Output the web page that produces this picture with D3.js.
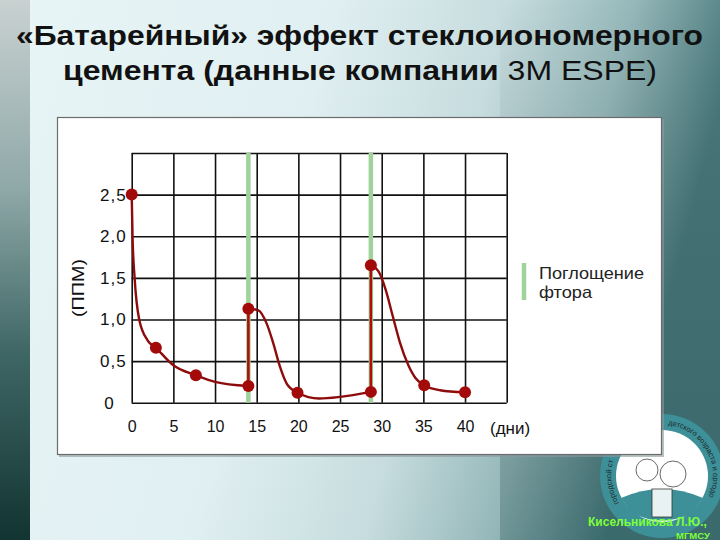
<!DOCTYPE html>
<html><head><meta charset="utf-8">
<script src="https://cdn.jsdelivr.net/npm/d3@7"></script>
<style>html,body{margin:0;padding:0;overflow:hidden;background:#e4f2f4}svg{display:block}</style>
</head><body><svg id="c" width="720" height="540"></svg>
<script>
// ---- data ----
const markerDays = [0, 2.9, 7.7, 14, 14, 19.9, 28.7, 28.7, 35.1, 40];
const markerPpm  = [2.5, 0.66, 0.33, 0.2, 1.13, 0.12, 0.13, 1.65, 0.21, 0.125];
// traced line, three stretches between the uptake jumps
const seg1Days = [0, 0.1, 0.35, 0.9, 1.9, 2.9, 5, 7.7, 10, 14];
const seg1Ppm  = [2.5, 2.0, 1.5, 1.0, 0.75, 0.66, 0.45, 0.33, 0.25, 0.2];
const seg2Days = [14, 15.2, 16.2, 17.0, 17.8, 18.6, 19.9, 22.5, 25, 28.7];
const seg2Ppm  = [1.13, 1.11, 0.95, 0.71, 0.43, 0.23, 0.12, 0.05, 0.07, 0.13];
const seg3Days = [28.7, 29.6, 30.5, 31.3, 32.2, 33.2, 34.1, 35.1, 37, 40];
const seg3Ppm  = [1.65, 1.58, 1.35, 1.05, 0.72, 0.45, 0.29, 0.21, 0.15, 0.125];
const uptakeDays = [14, 28.7];
const xTicks = [0, 5, 10, 15, 20, 25, 30, 35, 40];
const xGrid = [0, 5, 10, 15, 20, 25, 30, 35, 40, 45];
const yTicks = [0, 0.5, 1.0, 1.5, 2.0, 2.5];
const yTickLabels = ["0", "0,5", "1,0", "1,5", "2,0", "2,5"];
const yGrid = [0, 0.5, 1, 1.5, 2, 2.5, 3];
const titleLine1 = "«Батарейный» эффект стеклоиономерного";
const titleLine2a = "цемента (данные компании ";
const titleLine2b = "3M ESPE)";
const yTitle = "(ППМ)";
const xTitle = "(дни)";
const legendLines = ["Поглощение", "фтора"];
const logoTextLeft = "городской стом";
const logoTextRight = "детского возраста и ортодонтии";
const creditLines = ["Кисельникова Л.Ю.,", "МГМСУ"];

const svg = d3.select("#c");
const defs = svg.append("defs");
const font = "'Liberation Sans', Arial, sans-serif";

// background gradients
const bg = defs.append("linearGradient").attr("id","bg").attr("x1","0").attr("y1","0").attr("x2","1").attr("y2","0.2");
[[0,"#e8f5f7"],[0.45,"#e0eff1"],[0.68,"#c6dcde"],[0.85,"#95b7b9"],[1,"#4a7a7d"]].forEach(s=>bg.append("stop").attr("offset",s[0]).attr("stop-color",s[1]));
const strip = defs.append("linearGradient").attr("id","strip").attr("x1","0").attr("y1","0").attr("x2","0").attr("y2","1");
[[0,"#c9d1d1"],[0.35,"#8fa8a8"],[0.65,"#3f6766"],[1,"#123432"]].forEach(s=>strip.append("stop").attr("offset",s[0]).attr("stop-color",s[1]));
const shade = defs.append("linearGradient").attr("id","shade").attr("x1","0").attr("y1","0").attr("x2","0").attr("y2","1");
[[0,"#000",0],[1,"#0d3b3c",0.25]].forEach(s=>shade.append("stop").attr("offset",s[0]).attr("stop-color",s[1]).attr("stop-opacity",s[2]));

svg.append("rect").attr("width",720).attr("height",540).attr("fill","url(#bg)");
svg.append("rect").attr("x",500).attr("width",220).attr("height",540).attr("fill","url(#shade)");
svg.append("rect").attr("width",30).attr("height",540).attr("fill","url(#strip)");

// logo (behind panel)
const logo = svg.append("g").attr("transform","translate(662,476)");
logo.append("circle").attr("r",62).attr("fill","#3d8f98");
logo.append("circle").attr("r",46).attr("fill","#ffffff");
logo.append("path").attr("d","M-41,22 Q0,4 41,22 L30,37 Q0,52 -30,37 Z").attr("fill","#3d8f98");
logo.append("rect").attr("x",-10).attr("y",13).attr("width",20).attr("height",28).attr("fill","#e9f2f3").attr("stroke","#333").attr("stroke-width",0.8);
logo.append("circle").attr("cx",-15).attr("cy",-6).attr("r",11).attr("fill","none").attr("stroke","#444").attr("stroke-width",0.8);
logo.append("circle").attr("cx",11).attr("cy",-2).attr("r",13).attr("fill","none").attr("stroke","#444").attr("stroke-width",0.8);
defs.append("path").attr("id","ringL").attr("d","M-43,27 A51,51 0 0,1 -48,-17");
defs.append("path").attr("id","ringR").attr("d","M6,-51 A51,51 0 0,1 46,22");
logo.append("text").attr("font-family",font).attr("font-size",7.5).attr("fill","#1d2b2c")
  .append("textPath").attr("href","#ringL").text(logoTextLeft);
logo.append("text").attr("font-family",font).attr("font-size",7.5).attr("fill","#1d2b2c")
  .append("textPath").attr("href","#ringR").text(logoTextRight);
svg.append("g").selectAll("text").data(creditLines).join("text")
  .attr("x",(d,i)=>i===0?588:676).attr("y",(d,i)=>i===0?526:539)
  .attr("font-family",font).attr("font-weight","bold").attr("font-size",(d,i)=>i===0?12:9.5)
  .attr("fill","#7dff3a").text(d=>d);

// title
svg.append("text").attr("x",16).attr("y",45).attr("font-family",font).attr("font-weight","bold").attr("font-size",27)
  .attr("fill","#111").attr("textLength",687).attr("lengthAdjust","spacingAndGlyphs").text(titleLine1);
const t2 = svg.append("text").attr("x",63).attr("y",80).attr("font-family",font).attr("font-size",27)
  .attr("fill","#111").attr("textLength",594).attr("lengthAdjust","spacingAndGlyphs");
t2.append("tspan").attr("font-weight","bold").text(titleLine2a);
t2.append("tspan").attr("font-weight","normal").text(titleLine2b);

// panel
svg.append("rect").attr("x",59).attr("y",119).attr("width",605).attr("height",338).attr("fill","#8a9a9b").attr("opacity",0.6);
svg.append("rect").attr("x",57.5).attr("y",117.5).attr("width",604).attr("height",337).attr("fill","#ffffff").attr("stroke","#6b6b6b").attr("stroke-width",1.2);

// scales
const x = d3.scaleLinear().domain([0,45]).range([131.7,506.7]);
const y = d3.scaleLinear().domain([0,3]).range([402.7,153]);

// grid
const g = svg.append("g");
g.append("g").attr("transform",`translate(0,${y(0)})`)
  .call(d3.axisBottom(x).tickValues(xGrid).tickSize(-(y(0)-y(3))).tickFormat(""))
  .call(a=>{a.select(".domain").remove();a.selectAll("line").attr("stroke","#111").attr("stroke-width",1.6);});
g.append("g").attr("transform",`translate(${x(0)},0)`)
  .call(d3.axisLeft(y).tickValues(yGrid).tickSize(-(x(45)-x(0))).tickFormat(""))
  .call(a=>{a.select(".domain").remove();a.selectAll("line").attr("stroke","#111").attr("stroke-width",1.6);});

// uptake bars
svg.append("g").selectAll("line").data(uptakeDays).join("line")
  .attr("x1",d=>x(d)).attr("x2",d=>x(d)).attr("y1",y(3)).attr("y2",y(0))
  .attr("stroke","#9fd39a").attr("stroke-width",4.5);

// tick labels
svg.append("g").attr("transform",`translate(0,${y(0)})`)
  .call(d3.axisBottom(x).tickValues(xTicks).tickSize(0).tickPadding(18).tickFormat(d=>String(d)))
  .call(a=>{a.select(".domain").remove();a.selectAll("text").attr("font-family",font).attr("font-size",16).attr("fill","#111");});
svg.append("g").attr("transform",`translate(${x(0)-5},0)`)
  .call(d3.axisLeft(y).tickValues(yTicks).tickSize(0).tickPadding(0).tickFormat((d,i)=>yTickLabels[i]))
  .call(a=>{a.select(".domain").remove();
    a.selectAll("text").attr("font-family",font).attr("font-size",17).attr("fill","#111").attr("letter-spacing",1)
     .attr("dx",d=>d===0?-12:0);});

svg.append("text").attr("x",490).attr("y",434).attr("font-family",font).attr("font-size",17).attr("fill","#111").text(xTitle);
svg.append("text").attr("transform","translate(84,288) rotate(-90)").attr("text-anchor","middle")
  .attr("font-family",font).attr("font-size",17).attr("fill","#111").attr("textLength",58).attr("lengthAdjust","spacingAndGlyphs").text(yTitle);

// legend
svg.append("line").attr("x1",524).attr("x2",524).attr("y1",263).attr("y2",300).attr("stroke","#9fd39a").attr("stroke-width",4.5);
svg.append("g").selectAll("text").data(legendLines).join("text")
  .attr("x",539).attr("y",(d,i)=>279+i*19).attr("font-family",font).attr("font-size",16.5).attr("fill","#222")
  .attr("textLength",(d,i)=>i===0?105:53).attr("lengthAdjust","spacingAndGlyphs").text(d=>d);

// data line
const red = "#8e0b0b";
const curve = d3.line().x(d=>x(d[0])).y(d=>y(d[1])).curve(d3.curveMonotoneX);
const straight = d3.line().x(d=>x(d[0])).y(d=>y(d[1]));
const segs = [[seg1Days,seg1Ppm],[seg2Days,seg2Ppm],[seg3Days,seg3Ppm]].map(([a,b])=>a.map((d,i)=>[d,b[i]]));
const lg = svg.append("g");
lg.selectAll("path.c").data(segs).join("path").attr("class","c").attr("d",curve)
  .attr("fill","none").attr("stroke",red).attr("stroke-width",2.4);
const jumps = [[[markerDays[3],markerPpm[3]],[markerDays[4],markerPpm[4]]],[[markerDays[6],markerPpm[6]],[markerDays[7],markerPpm[7]]]];
lg.selectAll("path.j").data(jumps).join("path").attr("class","j").attr("d",straight)
  .attr("fill","none").attr("stroke","#b00d0d").attr("stroke-width",2.6);
lg.selectAll("circle").data(markerDays.map((d,i)=>[d,markerPpm[i]])).join("circle")
  .attr("cx",d=>x(d[0])).attr("cy",d=>y(d[1])).attr("r",6).attr("fill","#a30a0a");
</script></body></html>
